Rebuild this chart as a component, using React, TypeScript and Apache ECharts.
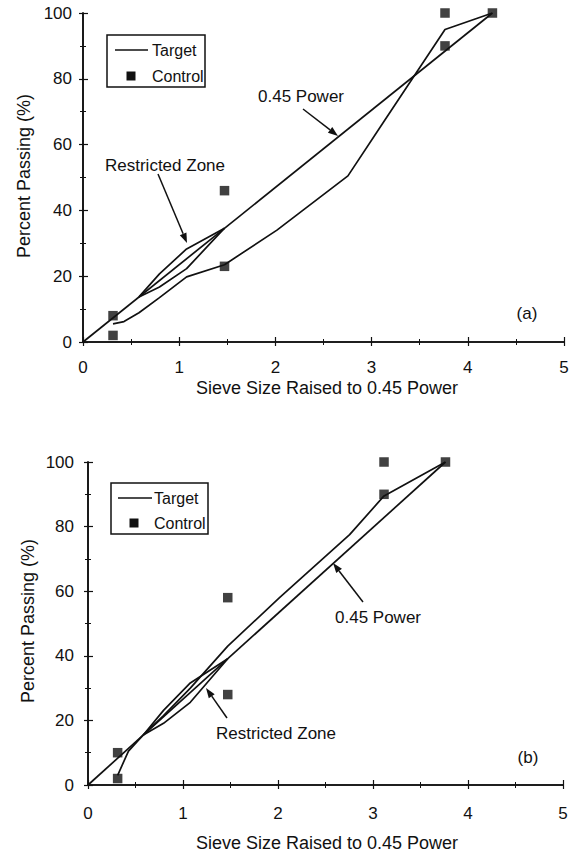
import React, { useEffect, useRef } from "react";
import * as echarts from "echarts";

// ---- Data ----
const xTicks = [0, 1, 2, 3, 4, 5];
const yTicks = [0, 20, 40, 60, 80, 100];

// (a) 19 mm mix
const gradeXA = [0.312, 0.426, 0.582, 0.795, 1.077, 1.471, 2.016, 2.754, 3.116, 3.763, 4.256];
const targetA = [5.5, 6.2, 8.9, 13.5, 19.8, 23.5, 34, 50.5, 66.5, 95, 100];
const controlXA = [0.312, 0.312, 1.471, 1.471, 3.763, 3.763, 4.256];
const controlYA = [2, 8, 23, 46, 90, 100, 100];
const zoneX = [0.582, 0.795, 1.077, 1.471];
const zoneUpperA = [13.7, 20.7, 28.3, 34.6];
const zoneLowerA = [13.7, 16.7, 22.3, 34.6];
const powerXA = [0, 4.256];
const powerYA = [0, 100];

// (b) 12.5 mm mix
const gradeXB = [0.312, 0.426, 0.582, 0.795, 1.077, 1.471, 2.016, 2.754, 3.116, 3.763];
const targetB = [3, 10.5, 15.5, 21.5, 30, 43, 58, 77.5, 89.5, 100];
const controlXB = [0.312, 0.312, 1.471, 1.471, 3.116, 3.116, 3.763];
const controlYB = [2, 10, 28, 58, 90, 100, 100];
const zoneUpperB = [15.5, 23.1, 31.6, 39.1];
const zoneLowerB = [15.5, 19.1, 25.6, 39.1];
const powerXB = [0, 3.763];
const powerYB = [0, 100];

const FONT = "'Liberation Sans', Arial, Helvetica, sans-serif";
const INK = "#111111";

const pairs = (xs: number[], ys: number[]) => xs.map((x, i) => [x, ys[i]]);

function arrow(x1: number, y1: number, x2: number, y2: number) {
  const len = Math.hypot(x2 - x1, y2 - y1);
  const ux = (x2 - x1) / len;
  const uy = (y2 - y1) / len;
  const hl = 10;
  const hw = 3.6;
  const bx = x2 - ux * hl;
  const by = y2 - uy * hl;
  return [
    {
      type: "line",
      shape: { x1, y1, x2: bx, y2: by },
      style: { stroke: INK, lineWidth: 1.5 },
      z: 50,
    },
    {
      type: "polygon",
      shape: {
        points: [
          [x2, y2],
          [bx - uy * hw, by + ux * hw],
          [bx + uy * hw, by - ux * hw],
        ],
      },
      style: { fill: INK },
      z: 50,
    },
  ];
}

function txt(text: string, x: number, y: number, size: number, align = "center", rotation = 0) {
  return {
    type: "text",
    x,
    y,
    rotation,
    style: {
      text,
      fill: INK,
      font: `${size}px ${FONT}`,
      textAlign: align,
      textVerticalAlign: "middle",
    },
    z: 50,
  };
}

function legend(x: number, y: number, w: number, h: number, lineX1: number, lineX2: number, textX: number, row1: number, row2: number, sqX: number) {
  return [
    {
      type: "rect",
      shape: { x, y, width: w, height: h },
      style: { fill: "#fff", stroke: INK, lineWidth: 1.5 },
      z: 40,
    },
    {
      type: "line",
      shape: { x1: lineX1, y1: row1, x2: lineX2, y2: row1 },
      style: { stroke: INK, lineWidth: 1.5 },
      z: 45,
    },
    txt("Target", textX, row1, 16, "left"),
    {
      type: "rect",
      shape: { x: sqX - 4.5, y: row2 - 4.5, width: 9, height: 9 },
      style: { fill: INK },
      z: 45,
    },
    txt("Control", textX, row2, 16, "left"),
  ];
}

function axesFor(gridIndex: number) {
  const label = { fontSize: 17, color: INK, fontFamily: FONT };
  const line = { show: true, lineStyle: { color: INK, width: 1.6 } };
  const tick = { show: true, inside: true, length: 5, lineStyle: { color: INK, width: 1.2 } };
  const minor = { show: true, splitNumber: 2, length: 3, lineStyle: { color: INK, width: 1 } };
  const xs = [
    {
      type: "value",
      gridIndex,
      min: xTicks[0],
      max: xTicks[xTicks.length - 1],
      interval: 1,
      position: "bottom",
      axisLine: line,
      axisTick: tick,
      minorTick: minor,
      splitLine: { show: false },
      axisLabel: { ...label, margin: gridIndex === 0 ? 17 : 20 },
    },
    {
      type: "value",
      gridIndex,
      min: xTicks[0],
      max: xTicks[xTicks.length - 1],
      interval: 1,
      position: "top",
      axisLine: line,
      axisTick: { ...tick, length: 4 },
      minorTick: minor,
      splitLine: { show: false },
      axisLabel: { show: false },
    },
  ];
  const ys = [
    {
      type: "value",
      gridIndex,
      min: yTicks[0],
      max: yTicks[yTicks.length - 1],
      interval: 20,
      position: "left",
      axisLine: line,
      axisTick: tick,
      minorTick: minor,
      splitLine: { show: false },
      axisLabel: { ...label, margin: gridIndex === 0 ? 11 : 14 },
    },
    {
      type: "value",
      gridIndex,
      min: yTicks[0],
      max: yTicks[yTicks.length - 1],
      interval: 20,
      position: "right",
      axisLine: line,
      axisTick: { ...tick, length: 4 },
      minorTick: minor,
      splitLine: { show: false },
      axisLabel: { show: false },
    },
  ];
  return { xs, ys };
}

function lineSeries(name: string, data: number[][], axis: number) {
  return {
    name,
    type: "line",
    xAxisIndex: axis,
    yAxisIndex: axis,
    data,
    symbol: "none",
    lineStyle: { color: INK, width: 1.7 },
    z: 5,
  };
}

function scatterSeries(name: string, data: number[][], axis: number) {
  return {
    name,
    type: "scatter",
    xAxisIndex: axis,
    yAxisIndex: axis,
    data,
    symbol: "rect",
    symbolSize: 9.5,
    itemStyle: { color: INK },
    z: 10,
  };
}

export default function App() {
  const ref = useRef<HTMLDivElement>(null);
  useEffect(() => {
    if (!ref.current) return;
    const chart = echarts.init(ref.current, undefined, { renderer: "svg" });
    const a = axesFor(0);
    const b = axesFor(1);
    const option: any = {
      animation: false,
      backgroundColor: "#ffffff",
      textStyle: { fontFamily: FONT },
      grid: [
        { left: 83, top: 13, width: 481, height: 329 },
        { left: 88, top: 462, width: 475, height: 323 },
      ],
      xAxis: [...a.xs, ...b.xs],
      yAxis: [...a.ys, ...b.ys],
      series: [
        lineSeries("0.45 Power", pairs(powerXA, powerYA), 0),
        lineSeries("Restricted Zone Upper", pairs(zoneX, zoneUpperA), 0),
        lineSeries("Restricted Zone Lower", pairs(zoneX, zoneLowerA), 0),
        lineSeries("Target", pairs(gradeXA, targetA), 0),
        scatterSeries("Control", pairs(controlXA, controlYA), 0),
        lineSeries("0.45 Power", pairs(powerXB, powerYB), 2),
        lineSeries("Restricted Zone Upper", pairs(zoneX, zoneUpperB), 2),
        lineSeries("Restricted Zone Lower", pairs(zoneX, zoneLowerB), 2),
        lineSeries("Target", pairs(gradeXB, targetB), 2),
        scatterSeries("Control", pairs(controlXB, controlYB), 2),
      ],
      graphic: [
        // axis titles
        txt("Percent Passing (%)", 24, 176, 18, "center", Math.PI / 2),
        txt("Sieve Size Raised to 0.45 Power", 327, 388, 18),
        txt("Percent Passing (%)", 28, 621, 18, "center", Math.PI / 2),
        txt("Sieve Size Raised to 0.45 Power", 327, 843, 18),
        // legends
        ...legend(107, 35, 98, 52, 115, 148, 152, 50, 76, 131),
        ...legend(111, 483, 97, 51, 118, 152, 154, 498, 523, 134),
        // annotations (a)
        txt("Restricted Zone", 165, 165, 17),
        ...arrow(158, 174, 187, 243),
        txt("0.45 Power", 301, 96, 17),
        ...arrow(303, 109, 338, 136),
        txt("(a)", 527, 313, 17),
        // annotations (b)
        txt("0.45 Power", 378, 617, 17),
        ...arrow(363, 602, 333, 563),
        txt("Restricted Zone", 276, 733, 17),
        ...arrow(227, 718, 206, 688),
        txt("(b)", 528, 757, 17),
      ],
    };
    chart.setOption(option);
    return () => chart.dispose();
  }, []);
  return (
    <div
      ref={ref}
      style={{ position: "absolute", left: 0, top: 0, width: 573, height: 855, background: "#fff" }}
    />
  );
}
